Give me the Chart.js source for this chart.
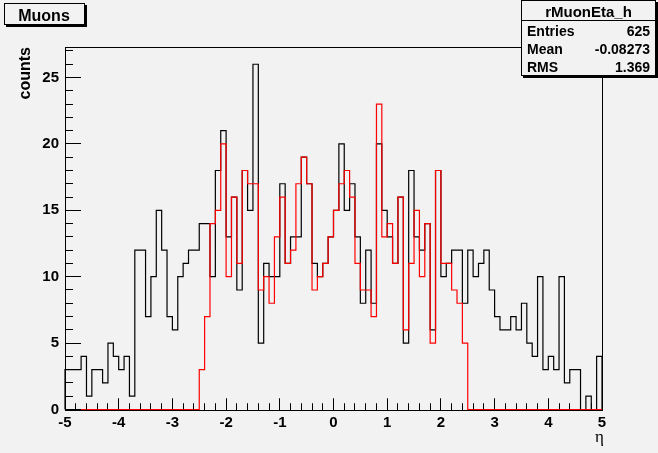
<!DOCTYPE html>
<html>
<head>
<meta charset="utf-8">
<script src="https://cdn.jsdelivr.net/npm/chart.js@4.4.1/dist/chart.umd.min.js"></script>
<style>
  html, body { margin: 0; padding: 0; background: #f2f2f2; }
  #myChart { display: block; }
</style>
</head>
<body>
<canvas id="myChart" width="658" height="453"></canvas>
<script>
// Binning of the eta axis
const etaMin = -5;
const etaMax = 5;
const nBins = 100;

// Black histogram (all muons), counts per bin
const genCounts = [
    3, 3, 3, 4, 1, 3, 3, 2, 5, 4,
    3, 4, 1, 12, 12, 7, 10, 15, 12, 7,
    6, 10, 11, 12, 12, 14, 14, 10, 18, 21,
    13, 16, 9, 18, 15, 26, 5, 11, 10, 10,
    17, 11, 13, 13, 19, 17, 11, 10, 11, 13,
    15, 20, 15, 17, 13, 8, 12, 8, 20, 15,
    13, 11, 16, 5, 18, 13, 12, 14, 6, 18,
    10, 11, 12, 12, 8, 12, 10, 11, 12, 9,
    7, 6, 6, 7, 6, 8, 5, 4, 10, 3,
    4, 3, 10, 2, 3, 3, 0, 1, 0, 4
];

// Red histogram (rMuonEta_h), counts per bin
const recoCounts = [
    0, 0, 0, 0, 0, 0, 0, 0, 0, 0,
    0, 0, 0, 0, 0, 0, 0, 0, 0, 0,
    0, 0, 0, 0, 0, 3, 7, 14, 15, 20,
    10, 16, 11, 18, 17, 17, 9, 10, 8, 13,
    16, 11, 12, 17, 19, 17, 9, 10, 11, 13,
    15, 17, 18, 16, 11, 9, 9, 7, 23, 13,
    14, 11, 16, 6, 11, 15, 10, 14, 5, 18,
    11, 11, 9, 8, 5, 0, 0, 0, 0, 0,
    0, 0, 0, 0, 0, 0, 0, 0, 0, 0,
    0, 0, 0, 0, 0, 0, 0, 0, 0, 0
];

const yMax = 27.3;
const xTicks = [-5, -4, -3, -2, -1, 0, 1, 2, 3, 4, 5];
const yTicks = [0, 5, 10, 15, 20, 25];
const xMinorStep = 0.2;
const yMinorStep = 1;

const statsTitle = "rMuonEta_h";
const statsRows = [["Entries", "625"], ["Mean", "-0.08273"], ["RMS", "1.369"]];
const legendTitle = "Muons";
const yTitle = "counts";
const xTitle = "\u03b7";

const bg = "#f2f2f2";
const boldFont = "'Liberation Sans', Arial, Helvetica, sans-serif";

// turn bin contents into step points (lower edge of every bin, closing at etaMax)
function histPoints(counts) {
    let w = (etaMax - etaMin) / nBins;
    let pts = [{x: etaMin, y: 0}];
    counts.forEach((c, i) => {
        pts.push({x: etaMin + i * w, y: c});
    });
    pts.push({x: etaMax, y: 0});
    return pts;
}

// minor tick positions for the secondary (unlabelled) axes
function minorValues(lo, hi, step) {
    let out = [];
    let n = Math.round((hi - lo) / step);
    for (let k = 0; k <= n; k++) out.push(lo + k * step);
    return out;
}

function boxWithShadow(ctx, x, y, w, h) {
    ctx.fillStyle = "#000";
    ctx.fillRect(x + 2, y + 2, w, h);
    ctx.fillStyle = bg;
    ctx.fillRect(x, y, w, h);
    ctx.strokeStyle = "#000";
    ctx.lineWidth = 1;
    ctx.strokeRect(x + 0.5, y + 0.5, w - 1, h - 1);
}

// frame of the plot area
function drawFrame(chart) {
    let ctx = chart.ctx;
    let a = chart.chartArea;
    ctx.save();
    ctx.strokeStyle = "#000";
    ctx.lineWidth = 1;
    ctx.strokeRect(Math.round(a.left) + 0.5, Math.round(a.top) + 0.5,
                   Math.round(a.right - a.left), Math.round(a.bottom - a.top));
    ctx.restore();
}

// inward ticks, drawn again by hand on top of the axis grid ticks
function drawTicks(chart) {
    let ctx = chart.ctx;
    let a = chart.chartArea;
    let xs = chart.scales.x;
    let ys = chart.scales.y;
    ctx.save();
    ctx.strokeStyle = "#000";
    ctx.lineWidth = 1;
    ctx.setLineDash([]);
    ctx.globalAlpha = 1;
    minorValues(etaMin, etaMax, xMinorStep).forEach((v, k) => {
        let px = Math.round(xs.getPixelForValue(v) - 0.5) + 0.5;
        let len = (k % 5 === 0) ? 11 : 6;
        ctx.beginPath();
        ctx.moveTo(px, a.bottom);
        ctx.lineTo(px, a.bottom - len);
        ctx.stroke();
    });
    minorValues(0, Math.floor(yMax), yMinorStep).forEach((v, k) => {
        let py = Math.round(ys.getPixelForValue(v) - 0.5) + 0.5;
        let len = (k % 5 === 0) ? 16 : 8;
        ctx.beginPath();
        ctx.moveTo(a.left, py);
        ctx.lineTo(a.left + len, py);
        ctx.stroke();
    });
    ctx.restore();
}

// title box, stats box and axis titles
function drawLabels(chart) {
    let ctx = chart.ctx;
    let a = chart.chartArea;
    ctx.save();

    boxWithShadow(ctx, 4, 3, 81, 22);
    ctx.fillStyle = "#000";
    ctx.font = "bold 16px " + boldFont;
    ctx.textAlign = "center";
    ctx.textBaseline = "alphabetic";
    ctx.fillText(legendTitle, 44, 20.5);

    let sx = 521, sw = 135, sh = 76;
    boxWithShadow(ctx, sx, 0, sw, sh);
    ctx.beginPath();
    ctx.moveTo(sx, 20.5);
    ctx.lineTo(sx + sw, 20.5);
    ctx.stroke();
    ctx.fillStyle = "#000";
    ctx.font = "bold 15px " + boldFont;
    ctx.textAlign = "center";
    ctx.fillText(statsTitle, sx + sw / 2, 16.5);
    ctx.font = "bold 14px " + boldFont;
    statsRows.forEach((row, i) => {
        let by = 36 + i * 18;
        ctx.textAlign = "left";
        ctx.fillText(row[0], sx + 6, by);
        ctx.textAlign = "right";
        ctx.fillText(row[1], sx + sw - 6, by);
    });

    // y axis title, rotated, aligned to top of frame
    ctx.save();
    ctx.translate(29.5, a.top);
    ctx.rotate(-Math.PI / 2);
    ctx.font = "bold 16px " + boldFont;
    ctx.textAlign = "right";
    ctx.fillText(yTitle, 0, 0);
    ctx.restore();

    // x axis title
    ctx.font = "17px 'Liberation Serif', 'DejaVu Serif', serif";
    ctx.textAlign = "right";
    ctx.fillText(xTitle, a.right + 2, 442);
    ctx.restore();
}

const rootDecor = {
    id: 'rootDecor',
    beforeDraw(chart) {
        let ctx = chart.ctx;
        ctx.save();
        ctx.fillStyle = bg;
        ctx.fillRect(0, 0, chart.width, chart.height);
        ctx.restore();
    },
    beforeDatasetsDraw(chart) {
        drawFrame(chart);
    },
    afterDraw(chart) {
        drawLabels(chart);
        drawTicks(chart);
    }
};

// grid settings that give ROOT-like ticks pointing into the frame
function inwardGrid(len) {
    return {
        display: true,
        drawOnChartArea: false,
        drawTicks: true,
        tickLength: -len,
        tickColor: "#000",
        tickWidth: 1,
        lineWidth: 1,
        color: "#000"
    };
}

document.addEventListener('DOMContentLoaded', function() {
    var ctx = document.getElementById("myChart");
    var myChart = new Chart(ctx, {
        type: 'line',
        data: {
            datasets: [
                {
                    label: "reco",
                    data: histPoints(recoCounts),
                    borderColor: "#ff0000",
                    borderWidth: 1.2,
                    stepped: 'before',
                    pointRadius: 0,
                    fill: false,
                    clip: false,
                    order: 0
                },
                {
                    label: "all",
                    data: histPoints(genCounts),
                    borderColor: "#000000",
                    borderWidth: 1.2,
                    stepped: 'before',
                    pointRadius: 0,
                    fill: false,
                    clip: false,
                    order: 1
                }
            ]
        },
        options: {
            responsive: false,
            animation: false,
            devicePixelRatio: 1,
            layout: { padding: { top: 47, right: 56, left: 0, bottom: 0 } },
            plugins: {
                legend: { display: false },
                tooltip: { enabled: false }
            },
            scales: {
                x: {
                    type: 'linear',
                    position: 'bottom',
                    weight: 1,
                    min: etaMin,
                    max: etaMax,
                    afterFit: (scale) => { scale.height = 43.5; },
                    afterBuildTicks: (scale) => { scale.ticks = xTicks.map(v => ({value: v})); },
                    grid: inwardGrid(11),
                    border: { display: false },
                    ticks: {
                        color: "#000",
                        padding: 15,
                        maxRotation: 0,
                        autoSkip: false,
                        font: { family: boldFont, size: 15, weight: 'bold' },
                        callback: (v) => String(v)
                    }
                },
                xMinor: {
                    type: 'linear',
                    position: 'bottom',
                    weight: 0,
                    min: etaMin,
                    max: etaMax,
                    afterFit: (scale) => { scale.height = 0; },
                    afterBuildTicks: (scale) => {
                        scale.ticks = minorValues(etaMin, etaMax, xMinorStep).map(v => ({value: v}));
                    },
                    grid: inwardGrid(6),
                    border: { display: false },
                    ticks: { display: false, autoSkip: false }
                },
                y: {
                    type: 'linear',
                    position: 'left',
                    weight: 1,
                    min: 0,
                    max: yMax,
                    afterFit: (scale) => { scale.width = 65; },
                    afterBuildTicks: (scale) => { scale.ticks = yTicks.map(v => ({value: v})); },
                    grid: inwardGrid(16),
                    border: { display: false },
                    ticks: {
                        color: "#000",
                        padding: 22,
                        autoSkip: false,
                        font: { family: boldFont, size: 15, weight: 'bold' },
                        callback: (v) => String(v)
                    }
                },
                yMinor: {
                    type: 'linear',
                    position: 'left',
                    weight: 0,
                    min: 0,
                    max: yMax,
                    afterFit: (scale) => { scale.width = 0; },
                    afterBuildTicks: (scale) => {
                        scale.ticks = minorValues(0, Math.floor(yMax), yMinorStep).map(v => ({value: v}));
                    },
                    grid: inwardGrid(8),
                    border: { display: false },
                    ticks: { display: false, autoSkip: false }
                }
            }
        },
        plugins: [rootDecor]
    });
});
</script>
</body>
</html>
